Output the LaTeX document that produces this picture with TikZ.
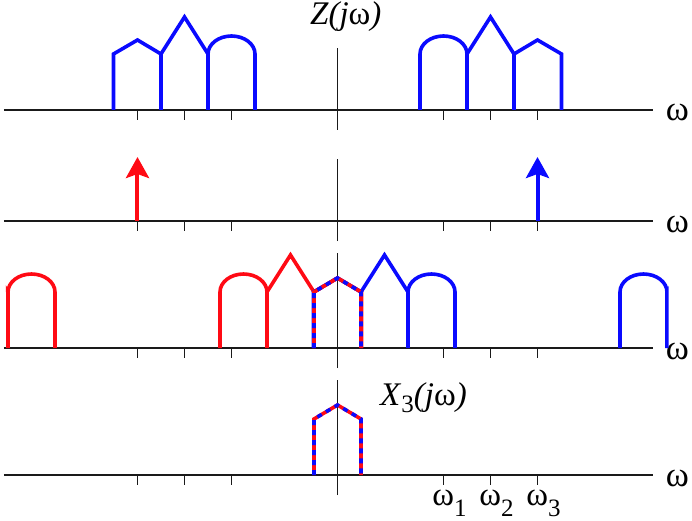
\documentclass[tikz,border=0pt]{standalone}
\usepackage{fontspec}
\setmainfont{Liberation Serif}
\usetikzlibrary{arrows.meta}
\definecolor{bandblue}{HTML}{0A0AFF}
\definecolor{bandred}{HTML}{FF0A14}
\definecolor{axisgray}{HTML}{1A1A1A}

% one-sided band: arch at w1, peak at w2, small peak at w3
\newcommand{\drawband}[1]{\draw[band,#1] (82.5,0) -- (82.5,56)
  arc[start angle=180,end angle=0,x radius=23.5,y radius=18]
  -- (153,93) -- (176.5,56) -- (200,70) -- (224,56) -- (224,0)
  (129.5,0) -- (129.5,56) (176.5,0) -- (176.5,56);}
% overlap piece around zero
\newcommand{\drawpiece}{%
  \draw[band,bandred] (-23.5,0) -- (-23.5,56) -- (0,70) -- (23.5,56) -- (23.5,0);
  \draw[dashband] (-23.5,0) -- (-23.5,56) -- (0,70) -- (23.5,56) -- (23.5,0);}
% frequency axis with ticks
\newcommand{\drawaxes}[2]{%
  \draw[axis] (-333.5,0) -- (315.5,0);
  \draw[axis] (0,-20) -- (0,#1);
  \foreach \t in {-200,-153,-106,106,153,200}
    \draw[axis] (\t,0) -- (\t,-10);
  \node[lbl,font=\fontsize{35}{38}\selectfont,anchor=base] (#2) at (340,-11) {ω};}
\newcommand{\subnum}[2]{\raisebox{#1}{\fontsize{25}{25}\selectfont #2}}

\begin{document}
\begin{tikzpicture}[x=1pt,y=1pt,
  axis/.style={line width=1.7pt,draw=axisgray},
  band/.style={line width=3.6pt,line join=miter},
  dashband/.style={line width=3.6pt,draw=bandblue,dash pattern=on 5pt off 5pt},
  lbl/.style={font=\fontsize{33}{36}\selectfont,inner sep=0pt},
  imp/.style={line width=4pt,-{Stealth[length=21pt,width=23pt,inset=4pt]}}
]
\useasboundingbox (-337.5,0) rectangle (354.5,520);

% Z(jw)
\begin{scope}[yshift=410pt]
  \drawaxes{62}{om1}
  \drawband{bandblue}
  \drawband{bandblue,xscale=-1}
  \node[lbl,anchor=base west] (zlabel) at (-27.5,85) {\textit{Z(j}ω\textit{)}};
\end{scope}

% carriers at -w3 and w3
\begin{scope}[yshift=299pt]
  \drawaxes{62}{om2}
  \coordinate (redbase) at (-200,0);
  \coordinate (redtip) at (-200,64);
  \coordinate (bluebase) at (200,0);
  \coordinate (bluetip) at (200,64);
  \draw[imp,bandred] (redbase) -- (redtip);
  \draw[imp,bandblue] (bluebase) -- (bluetip);
\end{scope}

% shifted copies
\begin{scope}[yshift=172pt]
  \drawaxes{95}{om3}
  \begin{scope}
    \clip (-331.5,-5) rectangle (331,120);
    \drawband{bandred,xshift=-200pt}
    \drawband{bandred,xshift=-200pt,xscale=-1}
    \drawband{bandblue,xshift=200pt}
    \drawband{bandblue,xshift=200pt,xscale=-1}
    \drawpiece
  \end{scope}
\end{scope}

% X3(jw)
\begin{scope}[yshift=45pt]
  \drawaxes{95}{om4}
  \drawpiece
  \node[lbl,anchor=base west] (x3label) at (42.5,70)
    {\textit{X}\subnum{-7pt}{3}\textit{(j}ω\textit{)}};
  \node[lbl,anchor=base west] (w1) at (94.7,-30) {ω\subnum{-11pt}{1}};
  \node[lbl,anchor=base west] (w2) at (141.7,-30) {ω\subnum{-11pt}{2}};
  \node[lbl,anchor=base west] (w3) at (188.7,-30) {ω\subnum{-11pt}{3}};
\end{scope}
\end{tikzpicture}
\end{document}
